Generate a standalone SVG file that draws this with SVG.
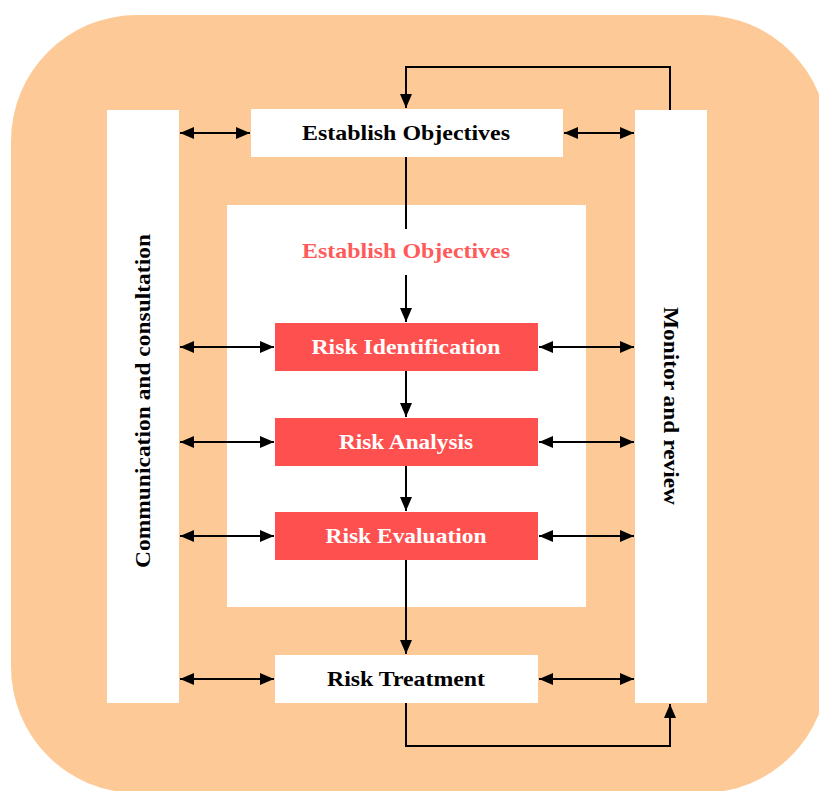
<svg xmlns="http://www.w3.org/2000/svg" width="819" height="791" viewBox="0 0 819 791">
<defs>
<marker id="ah" markerWidth="14" markerHeight="12" refX="14" refY="6" orient="auto-start-reverse" markerUnits="userSpaceOnUse">
<path d="M0,0 L14,6 L0,12 Z" fill="#000"/>
</marker>
<style>
.t{font-family:"Liberation Serif","Times New Roman",serif;font-weight:bold;font-size:21px;text-anchor:middle}
.w{fill:#fff}
.r{fill:#FF5050}
.c{stroke:#000;stroke-width:2;fill:none}
</style>
</defs>
<rect x="11" y="15" width="817" height="778" rx="126" fill="#FDCA97"/>
<rect id="inner" x="227" y="205" width="359" height="402" class="w"/>
<g id="comm"><rect x="107" y="110" width="72" height="593" class="w"/>
<text class="t" transform="translate(150,401) rotate(-90)" textLength="334" lengthAdjust="spacingAndGlyphs" fill="#000">Communication and consultation</text></g>
<g id="monitor"><rect x="635" y="110" width="72" height="593" class="w"/>
<text class="t" transform="translate(664,406) rotate(90)" textLength="198" lengthAdjust="spacingAndGlyphs" fill="#000">Monitor and review</text></g>
<g id="estobj"><rect x="251" y="109" width="312" height="48" class="w"/>
<text class="t" x="406" y="140" textLength="208" lengthAdjust="spacingAndGlyphs" fill="#000">Establish Objectives</text></g>
<g id="estobj2"><text class="t" x="406" y="258" textLength="208" lengthAdjust="spacingAndGlyphs" fill="#FF5A5A">Establish Objectives</text></g>
<g id="riskid"><rect x="275" y="323" width="263" height="48" class="r"/>
<text class="t" x="406" y="354" textLength="189" lengthAdjust="spacingAndGlyphs" fill="#fff">Risk Identification</text></g>
<g id="riskan"><rect x="275" y="418" width="263" height="48" class="r"/>
<text class="t" x="406" y="449" textLength="134" lengthAdjust="spacingAndGlyphs" fill="#fff">Risk Analysis</text></g>
<g id="riskev"><rect x="275" y="512" width="263" height="48" class="r"/>
<text class="t" x="406" y="543" textLength="161" lengthAdjust="spacingAndGlyphs" fill="#fff">Risk Evaluation</text></g>
<g id="risktr"><rect x="275" y="655" width="263" height="48" class="w"/>
<text class="t" x="406" y="686" textLength="158" lengthAdjust="spacingAndGlyphs" fill="#000">Risk Treatment</text></g>
<g id="connectors">
<path class="c" d="M180,133 H250" marker-start="url(#ah)" marker-end="url(#ah)"/>
<path class="c" d="M564,133 H634" marker-start="url(#ah)" marker-end="url(#ah)"/>
<path class="c" d="M180,347 H274" marker-start="url(#ah)" marker-end="url(#ah)"/>
<path class="c" d="M539,347 H634" marker-start="url(#ah)" marker-end="url(#ah)"/>
<path class="c" d="M180,442 H274" marker-start="url(#ah)" marker-end="url(#ah)"/>
<path class="c" d="M539,442 H634" marker-start="url(#ah)" marker-end="url(#ah)"/>
<path class="c" d="M180,536 H274" marker-start="url(#ah)" marker-end="url(#ah)"/>
<path class="c" d="M539,536 H634" marker-start="url(#ah)" marker-end="url(#ah)"/>
<path class="c" d="M180,679 H274" marker-start="url(#ah)" marker-end="url(#ah)"/>
<path class="c" d="M539,679 H634" marker-start="url(#ah)" marker-end="url(#ah)"/>
<path class="c" d="M406,157 V229"/>
<path class="c" d="M406,275 V322" marker-end="url(#ah)"/>
<path class="c" d="M406,371 V417" marker-end="url(#ah)"/>
<path class="c" d="M406,466 V511" marker-end="url(#ah)"/>
<path class="c" d="M406,560 V654" marker-end="url(#ah)"/>
<path class="c" d="M406,703 V746 H670 V704" marker-end="url(#ah)"/>
<path class="c" d="M670,110 V67 H406 V108" marker-end="url(#ah)"/>
</g>
</svg>
